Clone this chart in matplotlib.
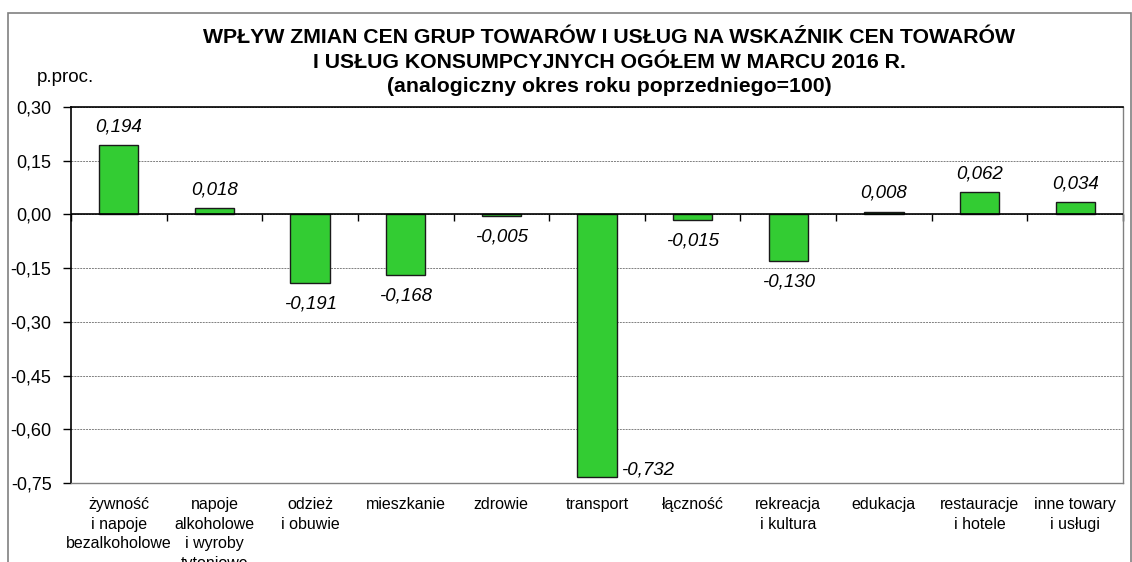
import matplotlib
matplotlib.use("Agg")
import matplotlib.pyplot as plt
import matplotlib.patches as patches
import numpy as np

plt.rcParams['font.family'] = ['Liberation Sans', 'DejaVu Sans']

categories = ["żywność\ni napoje\nbezalkoholowe", "napoje\nalkoholowe\ni wyroby\ntytoniowe",
              "odzież\ni obuwie", "mieszkanie", "zdrowie", "transport", "łączność",
              "rekreacja\ni kultura", "edukacja", "restauracje\ni hotele", "inne towary\ni usługi"]
values = [0.194, 0.018, -0.191, -0.168, -0.005, -0.732, -0.015, -0.130, 0.008, 0.062, 0.034]
yticks = [0.30, 0.15, 0.00, -0.15, -0.30, -0.45, -0.60, -0.75]
title = ("WPŁYW ZMIAN CEN GRUP TOWARÓW I USŁUG NA WSKAŹNIK CEN TOWARÓW\n"
         "I USŁUG KONSUMPCYJNYCH OGÓŁEM W MARCU 2016 R.\n"
         "(analogiczny okres roku poprzedniego=100)")

W, H = 1132, 562
fig = plt.figure(figsize=(W / 100, H / 100), dpi=100)
ax = fig.add_axes([71 / W, 1 - 483 / H, (1123 - 71) / W, (483 - 107) / H])

x = np.arange(len(values))
bw = 0.41
ax.bar(x, values, width=bw, color='#33CC33', edgecolor='#1a1a1a', linewidth=1.0, zorder=3)

ax.set_xlim(-0.5, len(values) - 0.5)
ax.set_ylim(-0.75, 0.30)
ax.set_yticks(yticks)
ax.set_yticklabels([f"{t:.2f}".replace('.', ',') for t in yticks], fontsize=13)
ax.tick_params(axis='y', direction='out', length=6, width=1, pad=8)
ax.yaxis.grid(True, linestyle=(0, (2, 1)), color='#808080', linewidth=0.7, zorder=0)

ax.set_xticks(x)
ax.set_xticklabels(categories, fontsize=11.5, linespacing=1.4)
ax.tick_params(axis='x', length=0, pad=10)

for s in ['left', 'top']:
    ax.spines[s].set_color('black')
    ax.spines[s].set_linewidth(1.2)
for s in ['right', 'bottom']:
    ax.spines[s].set_color('#808080')
    ax.spines[s].set_linewidth(1.0)

# zero line with category boundary ticks
ax.axhline(0, color='black', linewidth=1.2, zorder=4)
sec = ax.secondary_xaxis(0, transform=ax.transData)
sec.set_xticks(np.arange(len(values) + 1) - 0.5)
sec.set_xticklabels([])
sec.tick_params(direction='out', length=5, width=1, color='black')
sec.spines['bottom'].set_visible(False)

for xi, v in zip(x, values):
    lab = f"{v:.3f}".replace('.', ',')
    if v == min(values):
        ax.annotate(lab, (xi + bw / 2, v), xytext=(3, 5), textcoords='offset points',
                    ha='left', va='center', fontsize=13.5, style='italic')
    elif v >= 0:
        ax.annotate(lab, (xi, v), xytext=(0, 7), textcoords='offset points',
                    ha='center', va='bottom', fontsize=13.5, style='italic')
    else:
        ax.annotate(lab, (xi, v), xytext=(0, -9), textcoords='offset points',
                    ha='center', va='top', fontsize=13.5, style='italic')

fig.text(609 / W, 1 - 28 / H, title, ha='center', va='top', fontsize=15.3,
         fontweight='bold', linespacing=1.38)
fig.text(37 / W, 1 - 77 / H, "p.proc.", ha='left', va='center', fontsize=13.5)

fig.patches.append(patches.Rectangle((8 / W, -0.1), (1131 - 8) / W, 1.1 - 13 / H,
                                     transform=fig.transFigure, fill=False,
                                     edgecolor='#808080', linewidth=1.2))

fig.savefig("out.png", dpi=100)
